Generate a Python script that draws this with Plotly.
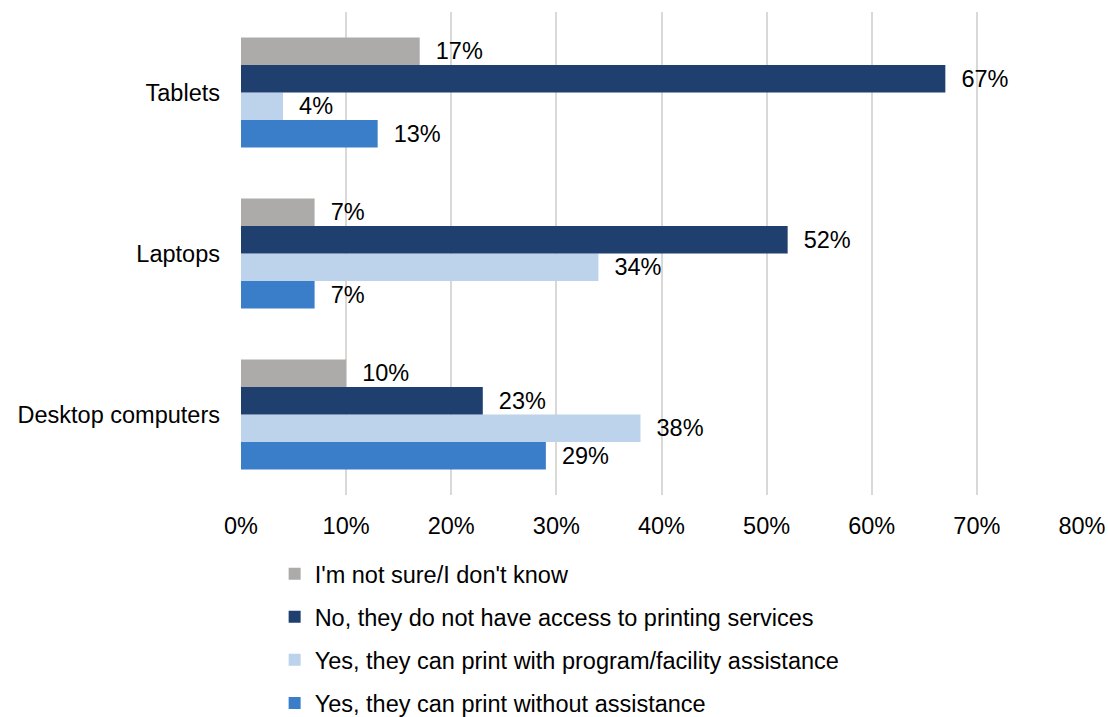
import plotly.graph_objects as go

categories = ["Desktop computers", "Laptops", "Tablets"]
series_names = [
    "Yes, they can print without assistance",
    "Yes, they can print with program/facility assistance",
    "No, they do not have access to printing services",
    "I'm not sure/I don't know",
]
without_assistance = [29, 7, 13]
with_assistance = [38, 34, 4]
no_access = [23, 52, 67]
not_sure = [10, 7, 17]
colors = ["#3A7DC9", "#BDD2EB", "#1F3F6E", "#ADAAAA"]
legend_ranks = [4, 3, 2, 1]
tick_vals = [0, 10, 20, 30, 40, 50, 60, 70, 80]
tick_text = ["0%", "10%", "20%", "30%", "40%", "50%", "60%", "70%", "80%"]

FONT = "Liberation Sans, Arial, sans-serif"
FS = 23.5
fig = go.Figure()
for i, (name, vals) in enumerate(zip(series_names, [without_assistance, with_assistance, no_access, not_sure])):
    fig.add_trace(go.Bar(
        y=categories, x=vals, orientation="h", name=name,
        marker=dict(color=colors[i], line=dict(width=0)),
        text=["\u00a0\u00a0" + f"{v}%" for v in vals],
        textposition="outside", cliponaxis=False,
        textfont=dict(size=FS, color="#000000", family=FONT),
        legendgroup=f"g{i}", legendrank=legend_ranks[i],
    ))

fig.update_layout(
    width=1108, height=717,
    margin=dict(l=241, r=26, t=12, b=222, autoexpand=False),
    plot_bgcolor="white", paper_bgcolor="white",
    font=dict(family=FONT, size=FS, color="#000000"),
    barmode="group", bargap=0.317, bargroupgap=0,
    showlegend=True,
    legend=dict(
        traceorder="grouped", tracegroupgap=9.5,
        x=0.04, xanchor="left", y=-0.118, yanchor="top",
        font=dict(size=FS, family=FONT, color="#000000"),
        bgcolor="rgba(0,0,0,0)",
    ),
    xaxis=dict(
        range=[0, 80], tickvals=tick_vals, ticktext=tick_text,
        showgrid=True, gridcolor="#D9D9D9", gridwidth=2,
        zeroline=False, showline=False, ticks="",
        ticklabelstandoff=14,
    ),
    yaxis=dict(
        categoryorder="array", categoryarray=categories,
        showgrid=False, zeroline=False, showline=False, ticks="",
        ticklabelstandoff=20,
    ),
)

fig.write_html("out.html")
